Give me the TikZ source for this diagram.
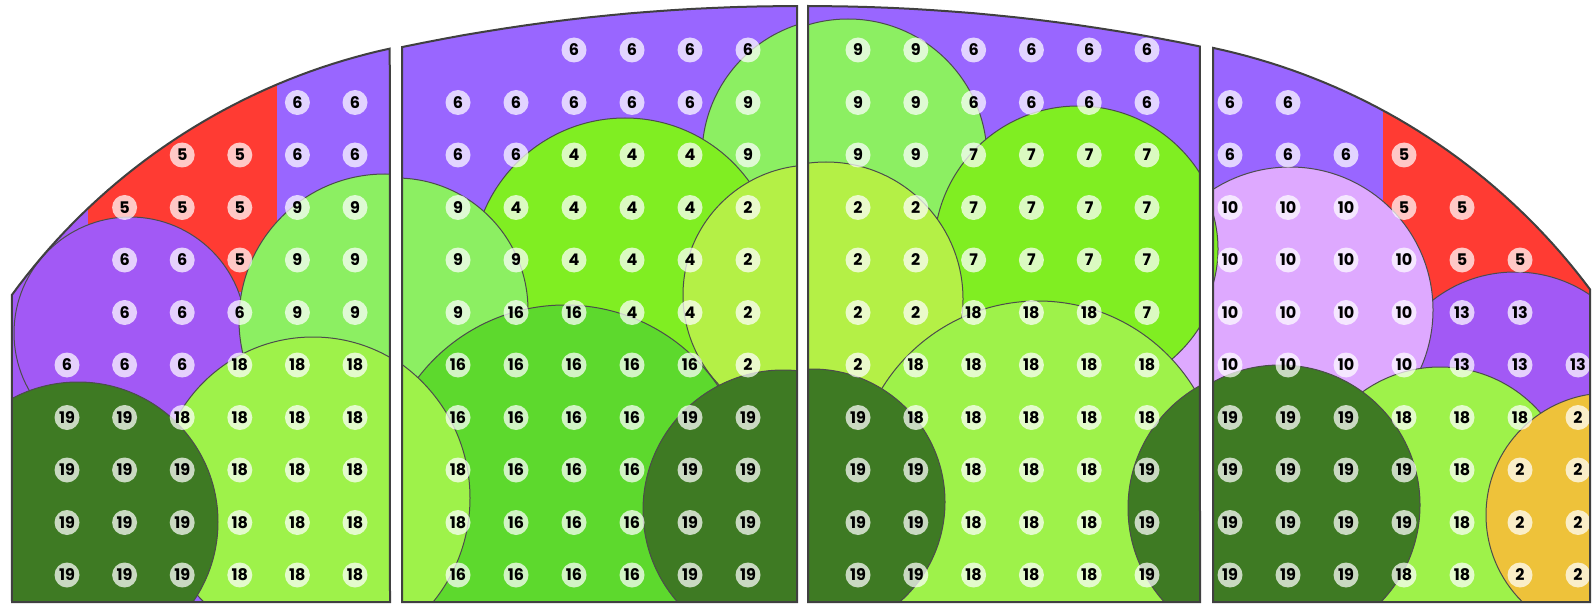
\documentclass[tikz,border=0pt]{standalone}
\usepackage{fontspec}
\usepackage{xcolor}
\usepackage{tikz}
\newfontfamily\lblfont{Poppins}

\definecolor{violet6}{HTML}{9966FF}
\definecolor{violetdeep}{HTML}{A259F5}
\definecolor{red5}{HTML}{FF3B33}
\definecolor{green9}{HTML}{8CEF62}
\definecolor{green18}{HTML}{9EF24A}
\definecolor{lime4}{HTML}{80EE22}
\definecolor{yellow2}{HTML}{B4F046}
\definecolor{green16}{HTML}{5DD92D}
\definecolor{forest19}{HTML}{3E7A23}
\definecolor{lilac10}{HTML}{DEA9FF}
\definecolor{gold2}{HTML}{EEC23A}

% panel outlines (pixel coordinates, y downwards)
\newcommand{\panelA}{(12,602) -- plot[domain=-143.9:-102.3,samples=40] ({525+635*cos(\x)},{669+635*sin(\x)}) -- (390,602) -- cycle}
\newcommand{\panelB}{(402,602) -- plot[domain=-101.85:-90,samples=20] ({797+1923*cos(\x)},{1929+1923*sin(\x)}) -- (797,602) -- cycle}
\newcommand{\panelC}{(808,602) -- plot[domain=-90:-78.24,samples=20] ({808+1923*cos(\x)},{1929+1923*sin(\x)}) -- (1200,602) -- cycle}
\newcommand{\panelD}{(1213,602) -- plot[domain=-78.0:-36.7,samples=40] ({1081+635*cos(\x)},{669+635*sin(\x)}) -- (1590,602) -- cycle}

% one row of plant numbers: panel, first x, step, row, values (0 = none)
\newcommand{\plantrow}[5]{%
  \foreach \n [count=\c] in {#5} {
    \ifnum\n>0
      \node[lbl] (#1-#4-\c) at ({#2+#3*(\c-1)},{50+52.5*#4}) {\n};
    \fi
  }}

\begin{document}
\begin{tikzpicture}[
  x=1pt, y=-1pt,
  zone/.style={draw=black!70, line width=1pt},
  lbl/.style={circle, fill=white, fill opacity=0.72, text opacity=1,
    inner sep=0pt, minimum size=25pt,
    font=\lblfont\bfseries\fontsize{16}{16}\selectfont},
  frame/.style={draw=black!75, line width=2pt},
]

  \useasboundingbox (0,0) rectangle (1595,604);
  \fill[white] (0,0) rectangle (1595,604);

  % ── Panel A ──
  \begin{scope}
    \clip \panelA;
    \fill[violet6] (0,0) rectangle (400,604);
    \fill[violetdeep] (0,0) rectangle (88,420);
    \fill[red5] (88,0) rectangle (277,292);
    \filldraw[zone, fill=violetdeep] (130,333) circle (116);
    \filldraw[zone, fill=green9] (385,320) circle (146);
    \filldraw[zone, fill=green18] (313,492) circle (155);
    \filldraw[zone, fill=forest19] (78,522) circle (140);
    \plantrow{a}{67}{57.6}{1}{0,0,0,0,6,6}
    \plantrow{a}{67}{57.6}{2}{0,0,5,5,6,6}
    \plantrow{a}{67}{57.6}{3}{0,5,5,5,9,9}
    \plantrow{a}{67}{57.6}{4}{0,6,6,5,9,9}
    \plantrow{a}{67}{57.6}{5}{0,6,6,6,9,9}
    \plantrow{a}{67}{57.6}{6}{6,6,6,18,18,18}
    \plantrow{a}{67}{57.6}{7}{19,19,18,18,18,18}
    \plantrow{a}{67}{57.6}{8}{19,19,19,18,18,18}
    \plantrow{a}{67}{57.6}{9}{19,19,19,18,18,18}
    \plantrow{a}{67}{57.6}{10}{19,19,19,18,18,18}
  \end{scope}
  \draw[frame] \panelA;

  % ── Panel B ──
  \begin{scope}
    \clip \panelB;
    \fill[violet6] (390,0) rectangle (800,604);
    \filldraw[zone, fill=green9] (840,156) circle (138);
    \filldraw[zone, fill=lime4] (625,271) circle (153);
    \filldraw[zone, fill=green9] (396,310) circle (132);
    \filldraw[zone, fill=yellow2] (813,295) circle (130);
    \filldraw[zone, fill=green16] (565,490) circle (185);
    \filldraw[zone, fill=green18] (305,498) circle (165);
    \filldraw[zone, fill=forest19] (783,510) circle (140);
    \plantrow{b}{458}{58}{0}{0,0,6,6,6,6}
    \plantrow{b}{458}{58}{1}{6,6,6,6,6,9}
    \plantrow{b}{458}{58}{2}{6,6,4,4,4,9}
    \plantrow{b}{458}{58}{3}{9,4,4,4,4,2}
    \plantrow{b}{458}{58}{4}{9,9,4,4,4,2}
    \plantrow{b}{458}{58}{5}{9,16,16,4,4,2}
    \plantrow{b}{458}{58}{6}{16,16,16,16,16,2}
    \plantrow{b}{458}{58}{7}{16,16,16,16,19,19}
    \plantrow{b}{458}{58}{8}{18,16,16,16,19,19}
    \plantrow{b}{458}{58}{9}{18,16,16,16,19,19}
    \plantrow{b}{458}{58}{10}{16,16,16,16,19,19}
  \end{scope}
  \draw[frame] \panelB;

  % ── Panel C ──
  \begin{scope}
    \clip \panelC;
    \fill[violet6] (800,0) rectangle (1205,604);
    \filldraw[zone, fill=lilac10] (1277,310) circle (143);
    \filldraw[zone, fill=green9] (848,158) circle (139);
    \filldraw[zone, fill=lime4] (1078,250) circle (144);
    \filldraw[zone, fill=yellow2] (826,299) circle (137);
    \filldraw[zone, fill=green18] (1038,484) circle (183);
    \filldraw[zone, fill=forest19] (812,502) circle (133);
    \filldraw[zone, fill=forest19] (1268,508) circle (140);
    \plantrow{c}{858}{57.8}{0}{9,9,6,6,6,6}
    \plantrow{c}{858}{57.8}{1}{9,9,6,6,6,6}
    \plantrow{c}{858}{57.8}{2}{9,9,7,7,7,7}
    \plantrow{c}{858}{57.8}{3}{2,2,7,7,7,7}
    \plantrow{c}{858}{57.8}{4}{2,2,7,7,7,7}
    \plantrow{c}{858}{57.8}{5}{2,2,18,18,18,7}
    \plantrow{c}{858}{57.8}{6}{2,18,18,18,18,18}
    \plantrow{c}{858}{57.8}{7}{19,18,18,18,18,18}
    \plantrow{c}{858}{57.8}{8}{19,19,18,18,18,19}
    \plantrow{c}{858}{57.8}{9}{19,19,18,18,18,19}
    \plantrow{c}{858}{57.8}{10}{19,19,18,18,18,19}
  \end{scope}
  \draw[frame] \panelC;

  % ── Panel D ──
  \begin{scope}
    \clip \panelD;
    \fill[violet6] (1205,0) rectangle (1595,604);
    \fill[red5] (1383,0) rectangle (1600,300);
    \filldraw[zone, fill=violetdeep] (1515,406) circle (134);
    \filldraw[zone, fill=lilac10] (1290,310) circle (143);
    \filldraw[zone, fill=lime4] (1091,249) circle (127);
    \filldraw[zone, fill=green18] (1440,500) circle (133);
    \filldraw[zone, fill=forest19] (1280,505) circle (140);
    \filldraw[zone, fill=gold2] (1608,515) circle (122);
    \plantrow{d}{1230}{58}{1}{6,6}
    \plantrow{d}{1230}{58}{2}{6,6,6,5}
    \plantrow{d}{1230}{58}{3}{10,10,10,5,5}
    \plantrow{d}{1230}{58}{4}{10,10,10,10,5,5}
    \plantrow{d}{1230}{58}{5}{10,10,10,10,13,13}
    \plantrow{d}{1230}{58}{6}{10,10,10,10,13,13,13}
    \plantrow{d}{1230}{58}{7}{19,19,19,18,18,18,2}
    \plantrow{d}{1230}{58}{8}{19,19,19,19,18,2,2}
    \plantrow{d}{1230}{58}{9}{19,19,19,19,18,2,2}
    \plantrow{d}{1230}{58}{10}{19,19,19,18,18,2,2}
  \end{scope}
  \draw[frame] \panelD;

\end{tikzpicture}
\end{document}
